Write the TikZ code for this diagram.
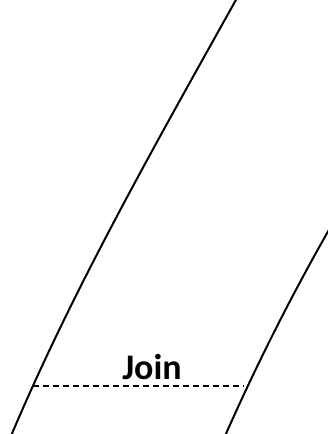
\documentclass[tikz,border=0pt]{standalone}
\usepackage{fontspec}
\setmainfont{Carlito}
\begin{document}
\begin{tikzpicture}[x=1pt,y=-1pt,
  curve/.style={line width=2pt},
  joinline/.style={line width=1.2pt,dash pattern=on 6pt off 4pt},
  lbl/.style={font=\bfseries\fontsize{36}{36}\selectfont,inner sep=0pt,anchor=base}]
\useasboundingbox (0,0) rectangle (328,434);
\coordinate (l1) at (237,-2);
\coordinate (l2) at (11,436);
\coordinate (r1) at (330,228);
\coordinate (r2) at (225,436);
\draw[curve] (l1) .. controls (155,145) and (73,289) .. (l2);
\draw[curve] (r1) .. controls (290,298) and (256,366) .. (r2);
\coordinate (jl) at (33,386);
\coordinate (jr) at (244,386);
\draw[joinline] (jl) -- (jr);
\node[lbl] (join) at (152,379) {Join};
\end{tikzpicture}
\end{document}
